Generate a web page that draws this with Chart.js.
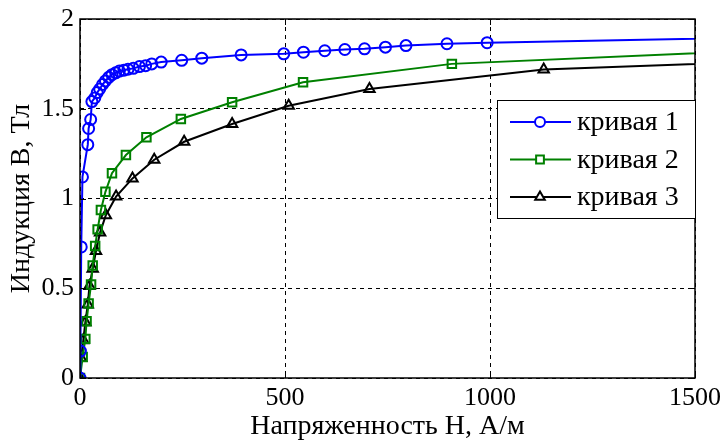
<!DOCTYPE html>
<html>
<head>
<meta charset="utf-8">
<script src="https://cdn.jsdelivr.net/npm/chart.js@4/dist/chart.umd.min.js"></script>
<style>
html,body{margin:0;padding:0;background:#fff;}
#wrap{width:725px;height:443px;position:relative;}
</style>
</head>
<body>
<div id="wrap"><canvas id="c" width="725" height="443"></canvas></div>
<script>
// Data
const h1 = [0, 1, 3, 6, 19, 21, 26, 29, 36, 42, 48, 55, 62, 70, 78, 87, 96, 107, 117, 130, 145, 160, 175, 198, 248, 297, 393, 497, 545, 597, 646, 694, 745, 795, 895, 993, 2000];
const b1 = [0, 0.15, 0.73, 1.12, 1.30, 1.39, 1.44, 1.54, 1.56, 1.59, 1.61, 1.635, 1.655, 1.675, 1.69, 1.70, 1.71, 1.715, 1.72, 1.725, 1.735, 1.74, 1.75, 1.76, 1.77, 1.782, 1.80, 1.806, 1.815, 1.823, 1.83, 1.834, 1.843, 1.852, 1.862, 1.868, 1.911];
const h2 = [0, 6.5, 13, 16, 21, 27, 31, 37, 43, 51, 62, 78, 112, 162, 246, 371, 544, 907, 2000];
const b2 = [0, 0.117, 0.218, 0.316, 0.415, 0.521, 0.627, 0.735, 0.828, 0.936, 1.037, 1.141, 1.242, 1.341, 1.443, 1.536, 1.648, 1.75, 1.86];
const h3 = [0, 2.4, 8, 13, 19, 23, 31, 39, 49, 63, 88, 128, 181, 254, 371, 509, 706, 1131, 2000];
const b3 = [0, 0.112, 0.21, 0.31, 0.41, 0.512, 0.609, 0.707, 0.81, 0.907, 1.011, 1.112, 1.216, 1.316, 1.415, 1.517, 1.61, 1.718, 1.793];
const seriesNames = ['кривая 1', 'кривая 2', 'кривая 3'];
const xTicks = [0, 500, 1000, 1500];
const yTicks = [0, 0.5, 1, 1.5, 2];
const xTitle = 'Напряженность H, А/м';
const yTitle = 'Индукция B, Тл';

const FONT = '"Liberation Serif", "Times New Roman", Times, "Nimbus Roman", "Nimbus Roman No9 L", FreeSerif, "Noto Serif", "DejaVu Serif", Tinos, serif';
Chart.defaults.font.family = FONT;
Chart.defaults.color = '#000';

function pts(h, b) { return h.map((x, i) => ({x: x, y: b[i]})); }

const colors = ['#0000ff', '#008000', '#000000'];
const styles = ['circle', 'rect', 'triangle'];
const radii = [5.5, 6, 6];

const datasets = [[h1,b1],[h2,b2],[h3,b3]].map((d, i) => ({
  label: seriesNames[i],
  data: pts(d[0], d[1]),
  borderColor: colors[i],
  borderWidth: 2,
  pointStyle: styles[i],
  pointRadius: radii[i],
  pointBorderWidth: 2,
  pointBorderColor: colors[i],
  pointBackgroundColor: 'rgba(255,255,255,0)',
  pointHoverRadius: radii[i],
  tension: 0,
  fill: false
}));

const framePlugin = {
  id: 'frame',
  afterDatasetsDraw(chart) {
    const {ctx, chartArea: a, scales} = chart;
    ctx.save();
    ctx.strokeStyle = '#000';
    ctx.lineWidth = 1.5;
    ctx.setLineDash([]);
    ctx.strokeRect(a.left, a.top, a.right - a.left, a.bottom - a.top);
    ctx.lineWidth = 1;
    const tl = 6;
    xTicks.forEach(v => {
      const x = Math.round(scales.x.getPixelForValue(v)) + 0.5;
      ctx.beginPath();
      ctx.moveTo(x, a.bottom); ctx.lineTo(x, a.bottom - tl);
      ctx.moveTo(x, a.top); ctx.lineTo(x, a.top + tl);
      ctx.stroke();
    });
    yTicks.forEach(v => {
      const y = Math.round(scales.y.getPixelForValue(v)) + 0.5;
      ctx.beginPath();
      ctx.moveTo(a.left, y); ctx.lineTo(a.left + tl, y);
      ctx.moveTo(a.right, y); ctx.lineTo(a.right - tl, y);
      ctx.stroke();
    });
    ctx.restore();
  },
  afterDraw(chart) {
    const {ctx} = chart;
    const bx = 497, by = 100, bw = 198, bh = 118;
    ctx.save();
    ctx.fillStyle = '#fff';
    ctx.fillRect(bx, by, bw, bh);
    ctx.strokeStyle = '#000';
    ctx.lineWidth = 1;
    ctx.strokeRect(bx + 0.5, by + 0.5, bw, bh);
    chart.data.datasets.forEach((ds, i) => {
      const y = by + 22 + i * 37.5;
      ctx.strokeStyle = ds.borderColor;
      ctx.lineWidth = 2;
      ctx.beginPath();
      ctx.moveTo(bx + 13, y); ctx.lineTo(bx + 74, y);
      ctx.stroke();
      ctx.fillStyle = '#fff';
      Chart.helpers.drawPoint(ctx, {
        pointStyle: ds.pointStyle, radius: ds.pointRadius - 0.5, borderWidth: 2, rotation: 0
      }, bx + 43, y);
      ctx.fillStyle = '#000';
      ctx.font = '28px ' + FONT;
      ctx.textBaseline = 'middle';
      ctx.textAlign = 'left';
      ctx.fillText(ds.label, bx + 80, y + 1);
    });
    ctx.restore();
  }
};

new Chart(document.getElementById('c'), {
  type: 'line',
  data: { datasets: datasets },
  options: {
    responsive: false,
    animation: false,
    devicePixelRatio: 1,
    layout: { padding: { left: 0, right: 30, top: 19, bottom: 0 } },
    plugins: { legend: { display: false }, tooltip: { enabled: false } },
    scales: {
      x: {
        type: 'linear',
        min: 0, max: 1500,
        afterBuildTicks(s) { s.ticks = xTicks.map(v => ({value: v})); },
        afterFit(s) { s.height = 65; s.paddingLeft = 0; s.paddingRight = 0; },
        ticks: { font: { size: 26 }, padding: 5, maxRotation: 0, autoSkip: false, color: '#000', callback: v => String(v) },
        grid: { color: '#000', lineWidth: 1, drawTicks: false, tickLength: 0 },
        border: { display: false, dash: [4, 4] },
        title: { display: true, text: xTitle, font: { size: 28 }, padding: { top: 0, bottom: 0 }, color: '#000' }
      },
      y: {
        type: 'linear',
        min: 0, max: 2,
        afterBuildTicks(s) { s.ticks = yTicks.map(v => ({value: v})); },
        afterFit(s) { s.width = 80; s.paddingTop = 0; s.paddingBottom = 0; },
        ticks: { font: { size: 26 }, padding: 6, color: '#000', callback: v => String(v) },
        grid: { color: '#000', lineWidth: 1, drawTicks: false, tickLength: 0 },
        border: { display: false, dash: [4, 4] },
        title: { display: true, text: yTitle, font: { size: 28 }, padding: { top: 5, bottom: 0 }, color: '#000' }
      }
    }
  },
  plugins: [framePlugin]
});
</script>
</body>
</html>
